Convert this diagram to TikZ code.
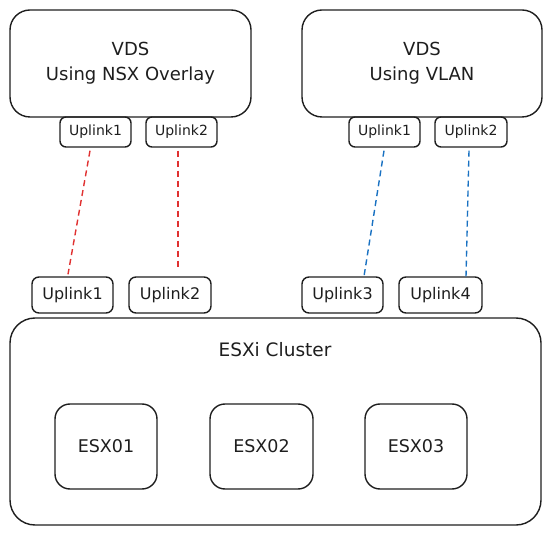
\documentclass[tikz,border=0pt]{standalone}
\usepackage{fontspec}
\setmainfont{DejaVu Sans}
\usetikzlibrary{calc}
\definecolor{linkred}{HTML}{E03131}
\definecolor{linkblue}{HTML}{1971C2}
\definecolor{ink}{HTML}{1E1E1E}
\begin{document}
\begin{tikzpicture}[x=1pt,y=-1pt,
  box/.style={draw=ink,line width=1.4pt,rounded corners=#1,inner sep=0pt,align=center,text=ink},
  bigbox/.style={box=20pt,font=\fontsize{18}{25}\selectfont},
  smallup/.style={box=6pt,minimum width=71pt,minimum height=30pt,font=\fontsize{14}{16}\selectfont},
  lowup/.style={box=7pt,minimum height=36pt,font=\fontsize{16}{18}\selectfont},
  esx/.style={box=15pt,minimum width=102pt,minimum height=85pt,font=\fontsize{17.5}{20}\selectfont},
  redlink/.style={draw=linkred,line width=1.4pt,dash pattern=on 6pt off 4pt},
  bluelink/.style={draw=linkblue,line width=1.4pt,dash pattern=on 6pt off 4pt}]
\useasboundingbox (0,0) rectangle (551,534);
% cluster
\node[box=25pt,minimum width=531pt,minimum height=207pt] (cluster) at (275.5,421.5) {};
\node[text=ink,font=\fontsize{18.5}{22}\selectfont] (clabel) at (275,350) {ESXi Cluster};
\node[esx] (esx1) at (106,446.5) {ESX01};
\node[esx,minimum width=103pt] (esx2) at (261.5,446.5) {ESX02};
\node[esx] (esx3) at (416,446.5) {ESX03};
% VDS boxes
\node[bigbox,minimum width=241pt,minimum height=107pt] (vds1) at (130.5,63.5) {VDS\\Using NSX Overlay};
\node[bigbox,minimum width=240pt,minimum height=107pt] (vds2) at (422,63.5) {VDS\\Using VLAN};
% top uplinks
\node[smallup] (a1) at (95.5,132) {Uplink1};
\node[smallup] (a2) at (181.5,132) {Uplink2};
\node[smallup] (c1) at (384.5,132) {Uplink1};
\node[smallup,minimum width=72pt] (c2) at (471,132) {Uplink2};
% bottom uplinks
\node[lowup,minimum width=81pt] (b1) at (72.5,295) {Uplink1};
\node[lowup,minimum width=82pt] (b2) at (170,295) {Uplink2};
\node[lowup,minimum width=81pt] (b3) at (342.5,295) {Uplink3};
\node[lowup,minimum width=83pt] (b4) at (440.5,295) {Uplink4};
% links
\draw[redlink] ($(a1.south)+(-5.5,3)$) -- ($(b1.north)+(-4.5,-2)$);
\draw[redlink] ($(a2.south)+(-3.5,3)$) -- ($(b2.north)+(8,-9)$);
\draw[bluelink] ($(c1.south)+(-0.5,3)$) -- ($(b3.north)+(21.5,0)$);
\draw[bluelink] ($(c2.south)+(-2,3)$) -- ($(b4.north)+(25.5,0)$);
\end{tikzpicture}
\end{document}
